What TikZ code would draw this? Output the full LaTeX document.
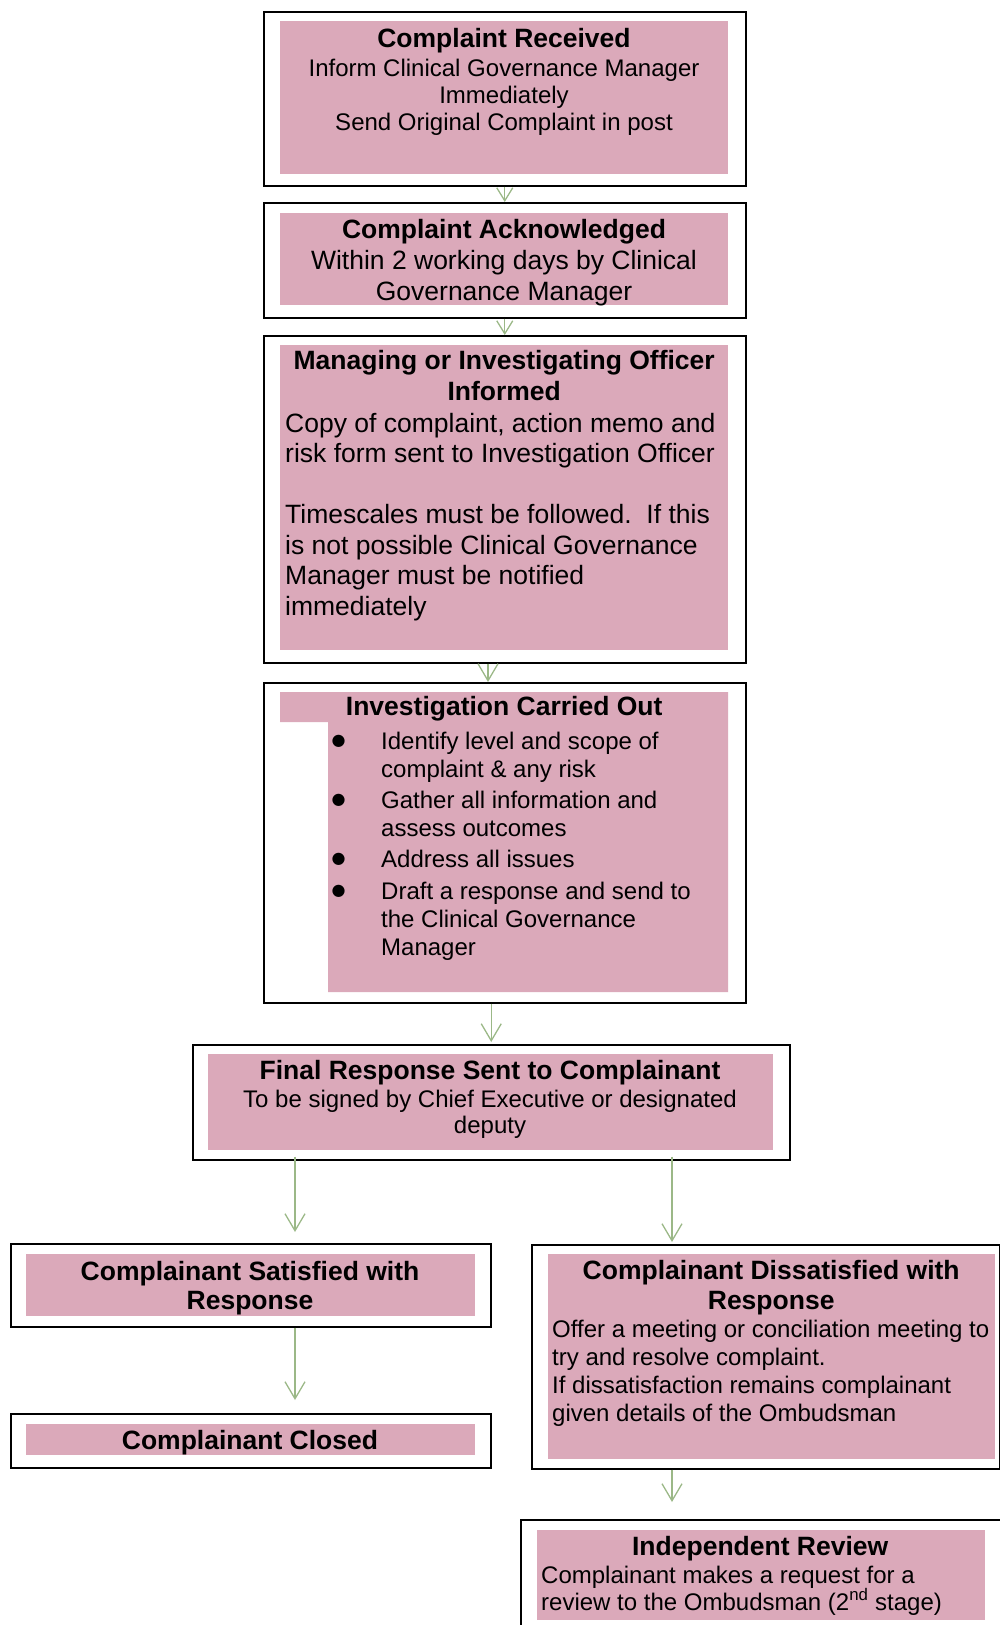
\documentclass[tikz,border=0pt]{standalone}
\usepackage{fontspec}
\setmainfont{Liberation Sans}
\newfontfamily\dejavu{DejaVu Sans}
\usetikzlibrary{arrows.meta}
\definecolor{pinkfill}{RGB}{219,169,186}
\definecolor{arrowgreen}{RGB}{155,184,135}
\newcommand{\ttl}{\fontsize{26.5}{31}\selectfont\bfseries}
\newcommand{\bdy}{\fontsize{24}{27}\selectfont}
\newcommand{\bdyL}{\fontsize{26.5}{31}\selectfont}
\newcommand{\bdyM}{\fontsize{26.5}{30.5}\selectfont}
\newcommand{\bdyB}{\fontsize{24}{28}\selectfont}
\newcommand{\bigbul}{\hspace*{51.5pt}\makebox[49.5pt][l]{\raisebox{3.5pt}{\dejavu\fontsize{16}{16}\selectfont ●}}}
\newcommand{\indt}{\hspace*{101pt}}
\tikzset{
  outerbox/.style={draw=black, line width=1.5pt, fill=white, rectangle, inner sep=0pt, anchor=north west},
  pinkbox/.style={fill=pinkfill, rectangle, inner sep=0pt, anchor=north west},
  txt/.style={inner sep=0pt, anchor=base, text=black},
  txtl/.style={inner sep=0pt, anchor=base west, text=black},
  flowarrow/.style={draw=arrowgreen, line width=1.3pt, -{Straight Barb[length=17pt,width=20pt]}},
  flowshort/.style={draw=arrowgreen, line width=1.3pt, -{Straight Barb[length=13pt,width=16pt]}},
}
\begin{document}
\begin{tikzpicture}[x=1pt,y=-1pt]
\useasboundingbox (0,0) rectangle (1000,1625);
\clip (0,0) rectangle (1000,1625);

% Box 1
\node[outerbox, minimum width=482pt, minimum height=174pt] (o1) at (263,11) {};
\node[pinkbox, minimum width=448pt, minimum height=153pt] (p1) at (280,21) {};
\node[txt] (t1) at (504,47) {\parbox[t]{446pt}{\centering{\ttl Complaint Received\par}\vspace{2pt}{\bdy Inform Clinical Governance Manager\\Immediately\\Send Original Complaint in post\par}}};

% Box 2
\node[outerbox, minimum width=482pt, minimum height=115pt] (o2) at (263,202) {};
\node[pinkbox, minimum width=448pt, minimum height=92pt] (p2) at (280,213) {};
\node[txt] (t2) at (504,238) {\parbox[t]{446pt}{\centering{\ttl Complaint Acknowledged\par}{\bdyL Within 2 working days by Clinical\\Governance Manager\par}}};

% Box 3
\node[outerbox, minimum width=482pt, minimum height=327pt] (o3) at (263,335) {};
\node[pinkbox, minimum width=448pt, minimum height=305pt] (p3) at (280,345) {};
\node[txtl] (t3) at (285,369) {\parbox[t]{438pt}{{\centering\ttl Managing or Investigating Officer\\Informed\par}\vspace{1.5pt}{\raggedright\bdyM Copy of complaint, action memo and\\risk form sent to Investigation Officer\\\mbox{}\\Timescales must be followed.~~If this\\is not possible Clinical Governance\\Manager must be notified\\immediately\par}}};

% Box 4
\node[outerbox, minimum width=482pt, minimum height=320pt] (o4) at (263,682) {};
\fill[pinkfill] (280,692) -- (728,692) -- (728,992) -- (328,992) -- (328,722) -- (280,722) -- cycle;
\node[txtl] (t4) at (280,715) {\parbox[t]{448pt}{{\centering\ttl Investigation Carried Out\par}\vspace{6pt}{\raggedright\bdyB
\bigbul Identify level and scope of\\\indt complaint \& any risk\par\vspace{3pt}
\bigbul Gather all information and\\\indt assess outcomes\par\vspace{3pt}
\bigbul Address all issues\par\vspace{4pt}
\bigbul Draft a response and send to\\\indt the Clinical Governance\\\indt Manager\par}}};

% Box 5
\node[outerbox, minimum width=597pt, minimum height=115pt] (o5) at (192,1044) {};
\node[pinkbox, minimum width=565pt, minimum height=96pt] (p5) at (208,1054) {};
\node[txt] (t5) at (490,1079) {\parbox[t]{560pt}{\centering{\ttl Final Response Sent to Complainant\par}\vspace{2pt}{\fontsize{24}{26}\selectfont To be signed by Chief Executive or designated\\deputy\par}}};

% Box 6
\node[outerbox, minimum width=480pt, minimum height=83pt] (o6) at (10,1243) {};
\node[pinkbox, minimum width=449pt, minimum height=62pt] (p6) at (26,1254) {};
\node[txt] (t6) at (250,1280) {\parbox[t]{445pt}{\centering\fontsize{26.5}{29.5}\selectfont\bfseries Complainant Satisfied with\\Response\par}};

% Box 7
\node[outerbox, minimum width=480pt, minimum height=54pt] (o7) at (10,1413) {};
\node[pinkbox, minimum width=449pt, minimum height=31pt] (p7) at (26,1424) {};
\node[txt] (t7) at (250,1449) {\parbox[t]{445pt}{\centering\ttl Complainant Closed\par}};

% Box 8
\node[outerbox, minimum width=468pt, minimum height=224pt] (o8) at (531,1244) {};
\node[pinkbox, minimum width=447pt, minimum height=205pt] (p8) at (548,1254) {};
\node[txtl] (t8) at (552,1279) {\parbox[t]{438pt}{{\centering\fontsize{26.5}{30}\selectfont\bfseries Complainant Dissatisfied with\\Response\par}{\raggedright\bdyB Offer a meeting or conciliation meeting to\\try and resolve complaint.\\If dissatisfaction remains complainant\\given details of the Ombudsman\par}}};

% Box 9
\node[outerbox, minimum width=490pt, minimum height=150pt] (o9) at (520,1519) {};
\node[pinkbox, minimum width=448pt, minimum height=90pt] (p9) at (537,1530) {};
\node[txtl] (t9) at (541,1555) {\parbox[t]{438pt}{{\centering\ttl Independent Review\par}\vspace{1pt}{\raggedright\bdy Complainant makes a request for a\\review to the Ombudsman (2\textsuperscript{nd} stage)\par}}};

% connectors
\coordinate (c34) at (488,0);
\coordinate (cl) at (295,0);
\coordinate (cr) at (672,0);
\draw[flowshort] (o1.south) -- (o2.north);
\draw[flowshort] (o2.south) -- (o3.north);
\draw[flowarrow] (o3.south -| c34) -- (o4.north -| c34);
\draw[flowarrow, shorten >=2pt] (o4.south -| o5.north) -- (o5.north);
\draw[flowarrow, shorten <=-4pt, shorten >=11pt] (o5.south -| cl) -- (o6.north -| cl);
\draw[flowarrow, shorten <=-4pt, shorten >=2pt] (o5.south -| cr) -- (o8.north -| cr);
\draw[flowarrow, shorten >=13pt] (o6.south -| cl) -- (o7.north -| cl);
\draw[flowarrow, shorten >=17pt] (o8.south -| cr) -- (o9.north -| cr);
\end{tikzpicture}
\end{document}
